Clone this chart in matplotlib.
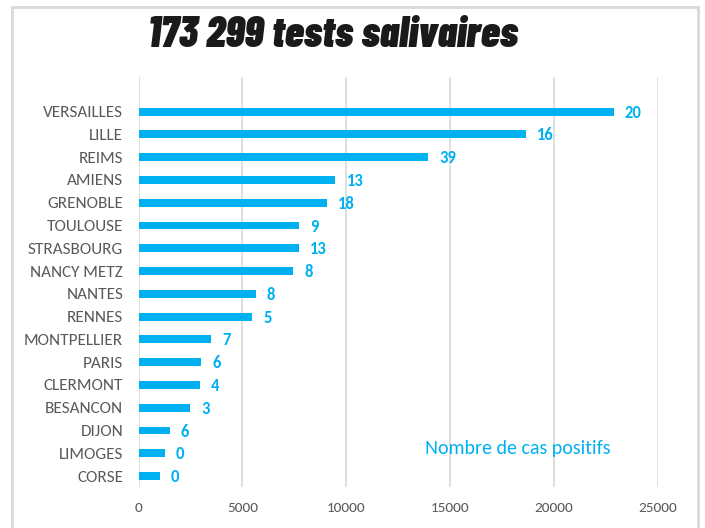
import matplotlib
matplotlib.use('Agg')
import matplotlib.pyplot as plt
import matplotlib.patches as mpatches
import numpy as np

# Data
CITIES = ['VERSAILLES', 'LILLE', 'REIMS', 'AMIENS', 'GRENOBLE', 'TOULOUSE',
          'STRASBOURG', 'NANCY METZ', 'NANTES', 'RENNES', 'MONTPELLIER',
          'PARIS', 'CLERMONT', 'BESANCON', 'DIJON', 'LIMOGES', 'CORSE']
TESTS = [22860, 18630, 13930, 9480, 9050, 7720, 7720, 7440, 5650, 5470,
         3490, 3020, 2970, 2490, 1510, 1260, 1030]
POSITIVES = [20, 16, 39, 13, 18, 9, 13, 8, 8, 5, 7, 6, 4, 3, 6, 0, 0]
XTICKS = [0, 5000, 10000, 15000, 20000, 25000]

BLUE = '#00B0F0'
GRID = '#D9D9D9'
TEXT = '#595959'

W, H = 705, 528


def main():
    plt.rcParams['font.family'] = ['Carlito', 'Lato', 'DejaVu Sans']

    fig = plt.figure(figsize=(W / 100, H / 100), dpi=100)
    fig.patch.set_facecolor('white')

    # outer frame of the picture
    fig.patches.append(mpatches.Rectangle((12 / W, -0.1), (698 - 12) / W, 1.1 - 7 / H,
                                          transform=fig.transFigure, fill=False,
                                          edgecolor=GRID, lw=2))

    ax = fig.add_axes([138.5 / W, (H - 487) / H, (658 - 138.5) / W, (487 - 77) / H])
    y = np.arange(len(CITIES))
    ax.barh(y, TESTS, height=0.35, color=BLUE, zorder=2)

    for yi, (v, p) in enumerate(zip(TESTS, POSITIVES)):
        ax.annotate(str(p), (v, yi), xytext=(11, -1), textcoords='offset pixels',
                    ha='left', va='center', color=BLUE, fontsize=12,
                    fontweight='bold')

    ax.set_xlim(0, 25000)
    ax.set_ylim(len(CITIES) - 1 + 0.48, -1.52)
    ax.set_xticks(XTICKS)
    ax.set_xticklabels([str(t) for t in XTICKS])
    ax.set_yticks(y)
    ax.set_yticklabels(CITIES)
    ax.tick_params(axis='both', length=0, labelcolor=TEXT)
    ax.tick_params(axis='x', pad=10.5, labelsize=11)
    ax.tick_params(axis='y', pad=11, labelsize=12.3)

    ax.grid(True, axis='x', color=GRID, lw=1.2, zorder=0)
    for s in ax.spines.values():
        s.set_visible(False)

    ax.text(0.5515, 0.095, 'Nombre de cas positifs', transform=ax.transAxes,
            ha='left', va='center', color=BLUE, fontsize=14.4)

    fig.text(148 / W, 1 - 35 / H, '173 299 tests salivaires',
             family=['Barlow Condensed', 'DejaVu Sans'],
             fontweight=900, style='italic', fontsize=31,
             ha='left', va='center', color='#1a1a1a')

    fig.savefig('out.png', dpi=100, facecolor='white')
    plt.close(fig)


if __name__ == '__main__':
    main()
